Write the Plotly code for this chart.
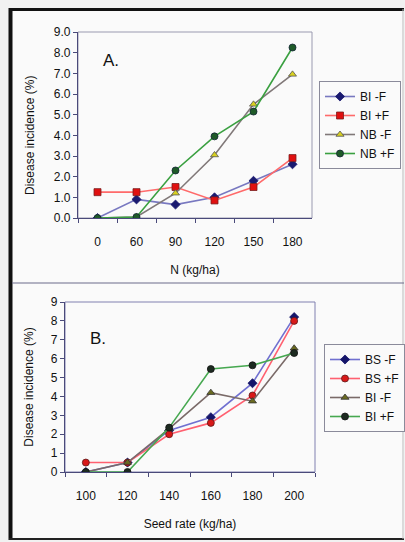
import plotly.graph_objects as go

# ---- Data ----
n_rates = ["0", "60", "90", "120", "150", "180"]
a_bi_minus = [0.0, 0.9, 0.65, 1.0, 1.8, 2.6]
a_bi_plus = [1.25, 1.25, 1.5, 0.85, 1.5, 2.9]
a_nb_minus = [0.0, 0.05, 1.2, 3.05, 5.5, 6.95]
a_nb_plus = [0.0, 0.05, 2.3, 3.95, 5.15, 8.25]

seed_rates = ["100", "120", "140", "160", "180", "200"]
b_bs_minus = [0.0, 0.5, 2.2, 2.9, 4.7, 8.2]
b_bs_plus = [0.5, 0.5, 2.0, 2.6, 4.05, 8.0]
b_bi_minus = [0.0, 0.5, 2.3, 4.2, 3.75, 6.55]
b_bi_plus = [0.0, 0.0, 2.35, 5.45, 5.65, 6.3]

a_ticks = [0, 1, 2, 3, 4, 5, 6, 7, 8, 9]
a_ticktext = ["0.0", "1.0", "2.0", "3.0", "4.0", "5.0", "6.0", "7.0", "8.0", "9.0"]
b_ticks = [0, 1, 2, 3, 4, 5, 6, 7, 8, 9]

W, H = 405, 542
FONT = "Liberation Sans, Arial, sans-serif"

fig = go.Figure()

def add(x, y, name, lc, mc, sym, xa, ya, leg, ms=7, mlc="#222"):
    fig.add_trace(go.Scatter(
        x=x, y=y, name=name, mode="lines+markers",
        line=dict(color=lc, width=1.6),
        marker=dict(color=mc, symbol=sym, size=ms, line=dict(color=mlc, width=0.8)),
        xaxis=xa, yaxis=ya, legend=leg,
    ))

add(n_rates, a_bi_minus, "BI -F", "#7878c0", "#1a1a70", "diamond", "x", "y", "legend", ms=7, mlc="#1a1a70")
add(n_rates, a_bi_plus, "BI +F", "#ff6a6a", "#e01010", "square", "x", "y", "legend", ms=7, mlc="#7a2020")
add(n_rates, a_nb_minus, "NB -F", "#807878", "#d8d020", "triangle-up", "x", "y", "legend", ms=7, mlc="#555")
add(n_rates, a_nb_plus, "NB +F", "#3aa040", "#1e5a28", "circle", "x", "y", "legend", ms=7, mlc="#123")

add(seed_rates, b_bs_minus, "BS -F", "#7070d0", "#15156a", "diamond", "x2", "y2", "legend2", ms=7, mlc="#15156a")
add(seed_rates, b_bs_plus, "BS +F", "#ff6070", "#d81818", "circle", "x2", "y2", "legend2", ms=7, mlc="#5a1a1a")
add(seed_rates, b_bi_minus, "BI -F", "#7a6a68", "#6a6a20", "triangle-up", "x2", "y2", "legend2", ms=7, mlc="#333")
add(seed_rates, b_bi_plus, "BI +F", "#46a850", "#1c2a20", "circle", "x2", "y2", "legend2", ms=7, mlc="#111")

axis_col = "#4a4a7a"
tfont = dict(family=FONT, size=12, color="#111")

def xax(domain, anchor, title, tstand):
    return dict(
        domain=domain, anchor=anchor, type="category", range=[-0.5, 5.5],
        tickson="boundaries", ticks="outside", ticklen=4, tickcolor=axis_col,
        showline=True, linecolor=axis_col, linewidth=1.2, showgrid=False, zeroline=False,
        tickfont=dict(family=FONT, size=12, color="#111"), ticklabelstandoff=12,
        title=dict(text=title, font=tfont, standoff=tstand),
        automargin=False,
    )

def yax(domain, anchor, tickvals, ticktext, title, standoff):
    return dict(
        domain=domain, anchor=anchor, range=[0, 9], tickvals=tickvals, ticktext=ticktext,
        ticks="outside", ticklen=4, tickcolor=axis_col,
        showline=True, linecolor=axis_col, linewidth=1.2, showgrid=False, zeroline=False,
        tickfont=dict(family=FONT, size=12, color="#111"),
        title=dict(text=title, font=tfont, standoff=standoff),
        automargin=False,
    )

legfont = dict(family=FONT, size=12, color="#111")

fig.update_layout(
    width=W, height=H,
    margin=dict(l=0, r=0, t=0, b=0, autoexpand=False),
    paper_bgcolor="#f1f1f1",
    plot_bgcolor="rgba(0,0,0,0)",
    font=dict(family=FONT, size=11, color="#222"),
    xaxis=xax([78 / W, 312 / W], "y", "N (kg/ha)", 18),
    yaxis=yax([1 - 218 / H, 1 - 32 / H], "x", a_ticks, a_ticktext, "", 14),
    xaxis2=xax([65 / W, 315 / W], "y2", "Seed rate (kg/ha)", 18),
    yaxis2=yax([1 - 472 / H, 1 - 302 / H], "x2", b_ticks, [str(v) for v in b_ticks],
               "Disease incidence (%)", 14),
    legend=dict(x=319 / W, y=1 - 81 / H, xanchor="left", yanchor="top",
                bgcolor="#fafafa", bordercolor="#8a8a9a", borderwidth=1,
                font=legfont, itemwidth=30, tracegroupgap=0),
    legend2=dict(x=324 / W, y=1 - 344 / H, xanchor="left", yanchor="top",
                 bgcolor="#fafafa", bordercolor="#8a8a9a", borderwidth=1,
                 font=legfont, itemwidth=30, tracegroupgap=0),
    showlegend=True,
)

shapes = [
    dict(type="rect", xref="paper", yref="paper", x0=10 / W, x1=404 / W, y0=1 - 539 / H, y1=1 - 9 / H,
         fillcolor="#fafafa", line=dict(width=0), layer="below"),
    dict(type="line", xref="paper", yref="paper", x0=10.5 / W, x1=10.5 / W, y0=1 - 540 / H, y1=1 - 8 / H,
         line=dict(color="#111", width=4)),
    dict(type="line", xref="paper", yref="paper", x0=9 / W, x1=404 / W, y0=1 - 9.5 / H, y1=1 - 9.5 / H,
         line=dict(color="#111", width=3)),
    dict(type="line", xref="paper", yref="paper", x0=9 / W, x1=404 / W, y0=1 - 539 / H, y1=1 - 539 / H,
         line=dict(color="#222", width=2)),
    dict(type="line", xref="paper", yref="paper", x0=403 / W, x1=403 / W, y0=1 - 539 / H, y1=1 - 9 / H,
         line=dict(color="#bbb", width=1)),
    dict(type="line", xref="paper", yref="paper", x0=12 / W, x1=404 / W, y0=1 - 283 / H, y1=1 - 283 / H,
         line=dict(color="#6a6a8a", width=1)),
    dict(type="rect", xref="x domain", yref="y domain", x0=0, x1=1, y0=0, y1=1,
         line=dict(color="#9a9ab0", width=1), layer="below"),
    dict(type="rect", xref="x2 domain", yref="y2 domain", x0=0, x1=1, y0=0, y1=1,
         line=dict(color="#8080b0", width=1), layer="below"),
]
fig.update_layout(shapes=shapes)

fig.add_annotation(text="Disease incidence (%)", xref="paper", yref="paper",
                   x=30 / W, y=1 - 136 / H, textangle=-90, showarrow=False,
                   font=tfont, xanchor="center", yanchor="middle")
fig.add_annotation(text="A.", xref="x domain", yref="y domain", x=0.10, y=0.91,
                   showarrow=False, font=dict(family=FONT, size=17, color="#111"), xanchor="left")
fig.add_annotation(text="B.", xref="x2 domain", yref="y2 domain", x=0.09, y=0.855,
                   showarrow=False, font=dict(family=FONT, size=17, color="#111"), xanchor="left")

fig.write_html(
    "out.html",
    config={"displayModeBar": False},
    post_script="document.body.style.margin='0';document.body.style.overflow='hidden';",
)
